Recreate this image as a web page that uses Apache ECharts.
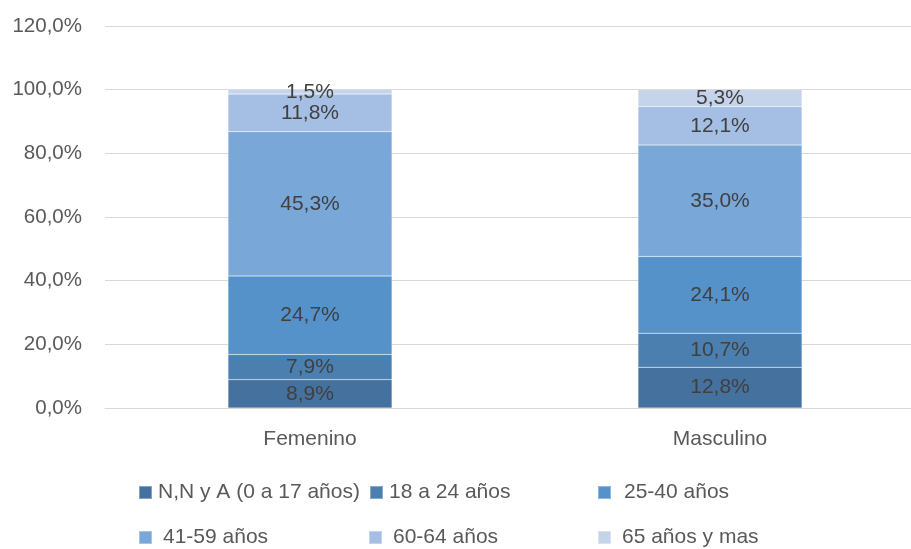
<!DOCTYPE html>
<html><head><meta charset="utf-8">
<script src="https://cdn.jsdelivr.net/npm/echarts@6/dist/echarts.min.js"></script>
<style>html,body{margin:0;padding:0;background:#fff}#c{width:911px;height:549px}</style>
</head><body><div id="c"></div>
<script>
const categories = ['Femenino', 'Masculino'];
const seriesNames = ['N,N y A (0 a 17 años)', '18 a 24 años', '25-40 años', '41-59 años', '60-64 años', '65 años y mas'];
const nnya = [8.9, 12.8];
const a18_24 = [7.9, 10.7];
const a25_40 = [24.7, 24.1];
const a41_59 = [45.3, 35.0];
const a60_64 = [11.8, 12.1];
const a65 = [1.5, 5.3];
const yTicks = [0, 20, 40, 60, 80, 100, 120];

const values = [nnya, a18_24, a25_40, a41_59, a60_64, a65];
const colors = ['#44719E', '#4A7FB0', '#5592CA', '#78A7D8', '#A4BFE3', '#C5D4EB'];
const FONT = 'Liberation Sans';
const fmt = v => v.toFixed(1).replace('.', ',') + '%';

const legendPos = [
  {left: 138, top: 482, gap: 6},
  {left: 369, top: 482, gap: 6},
  {left: 597, top: 482, gap: 13},
  {left: 138, top: 527, gap: 11},
  {left: 368, top: 527, gap: 11},
  {left: 597, top: 527, gap: 11}
];

const chart = echarts.init(document.getElementById('c'), null, {renderer: 'canvas'});
chart.setOption({
  animation: false,
  textStyle: {fontFamily: FONT},
  grid: {left: 105, width: 820, top: 26, height: 382, containLabel: false, outerBoundsMode: 'none'},
  legend: seriesNames.map((n, i) => ({
    data: [n], left: legendPos[i].left, top: legendPos[i].top,
    itemWidth: 13, itemHeight: 13, icon: 'rect', padding: 0,
    textStyle: {fontFamily: FONT, fontSize: 21, color: '#595959', padding: [0, 0, 0, legendPos[i].gap - 5]}
  })),
  xAxis: {
    type: 'category', data: categories,
    axisLine: {lineStyle: {color: '#D9D9D9', width: 1}},
    axisTick: {show: false},
    axisLabel: {fontFamily: FONT, fontSize: 21, color: '#595959', margin: 21}
  },
  yAxis: {
    type: 'value', min: yTicks[0], max: yTicks[yTicks.length - 1], interval: 20,
    axisLine: {show: false}, axisTick: {show: false},
    splitLine: {lineStyle: {color: '#D9D9D9', width: 1}},
    axisLabel: {fontFamily: FONT, fontSize: 20.5, color: '#595959', margin: 23, formatter: v => fmt(v)}
  },
  series: seriesNames.map((n, i) => ({
    name: n, type: 'bar', stack: 'total', data: values[i], barWidth: 164,
    itemStyle: {color: colors[i], borderColor: 'rgba(255,255,255,0.35)', borderWidth: 0.5},
    label: {show: true, position: 'inside', formatter: p => fmt(p.value), fontFamily: FONT, fontSize: 21, color: '#404040'}
  }))
});
</script></body></html>
